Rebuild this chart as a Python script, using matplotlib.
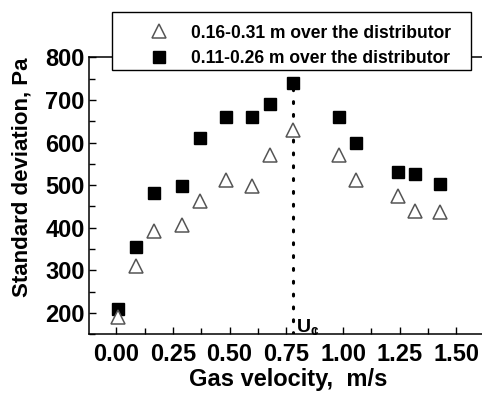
import numpy as np
import matplotlib
matplotlib.use('Agg')
import matplotlib.pyplot as plt
from matplotlib.ticker import MultipleLocator
from matplotlib.patches import Rectangle

plt.rcParams['font.family'] = ['Liberation Sans', 'DejaVu Sans']
plt.rcParams['font.weight'] = 'bold'
plt.rcParams['mathtext.fontset'] = 'custom'
plt.rcParams['mathtext.bf'] = 'Liberation Sans:bold'
plt.rcParams['mathtext.rm'] = 'Liberation Sans:bold'

# gas velocity, m/s
velocity = [0.01, 0.089, 0.165, 0.29, 0.368, 0.486, 0.599, 0.68, 0.78, 0.981, 1.059, 1.244, 1.319, 1.426]
# standard deviation, Pa
std_high = [190, 311, 392, 406, 463, 511, 499, 570, 629, 570, 511, 474, 439, 437]   # 0.16-0.31 m
std_low = [209, 354, 482, 498, 611, 659, 659, 691, 740, 659, 599, 530, 526, 503]    # 0.11-0.26 m
labels = ['0.16-0.31 m over the distributor', '0.11-0.26 m over the distributor']
u_c = 0.78
u_c_top = 732

W, H = 482, 394
fig = plt.figure(figsize=(W / 100, H / 100), dpi=100)
ax = fig.add_axes([0.1846, 0.1515, 1.01 - 0.1846, 0.8546 - 0.1515])

h1, = ax.plot(velocity, std_high, linestyle='none', marker='^', markersize=9.5,
              markerfacecolor='white', markeredgecolor='#555555', markeredgewidth=1.1,
              label=labels[0], zorder=3)
h2, = ax.plot(velocity, std_low, linestyle='none', marker='s', markersize=8.5,
              color='black', label=labels[1], zorder=2)

ax.plot([u_c, u_c], [150, u_c_top], color='black', linewidth=2.2,
        linestyle=(0, (0.6, 3.6)), dash_capstyle='round', zorder=1)
ax.text(u_c + 0.012, 167, r'$\mathbf{U_c}$', fontsize=14, ha='left', va='center')

ax.set_xlim(-0.12, 1.634)
ax.set_ylim(150, 800)
ax.xaxis.set_major_locator(MultipleLocator(0.25))
ax.xaxis.set_minor_locator(MultipleLocator(0.125))
ax.yaxis.set_major_locator(MultipleLocator(100))
ax.yaxis.set_minor_locator(MultipleLocator(50))
ax.set_xticks(np.arange(0, 1.51, 0.25))
ax.set_yticks(np.arange(200, 801, 100))
ax.xaxis.set_major_formatter(matplotlib.ticker.FormatStrFormatter('%.2f'))

ax.tick_params(which='both', direction='in', top=False, right=False,
               labelsize=17, width=1)
ax.tick_params(axis='x', pad=6)
ax.tick_params(axis='y', pad=3)
ax.tick_params(which='major', length=5)
ax.tick_params(which='minor', length=4)
for s in ax.spines.values():
    s.set_linewidth(1.1)

ax.set_xlabel('Gas velocity,  m/s', fontsize=17, fontweight='bold', labelpad=2)
ax.set_ylabel('Standard deviation, Pa', fontsize=16, fontweight='bold')
ax.yaxis.set_label_coords(-0.142, 0.568)

# legend frame drawn by hand (box is taller on top than the legend rows)
box = Rectangle((111.7 / W, 1 - 70 / H), 359 / W, 58.3 / H, transform=fig.transFigure,
                facecolor='white', edgecolor='black', linewidth=1.0, zorder=5)
fig.add_artist(box)
leg = fig.legend([h1, h2], labels, loc='upper left',
                 bbox_to_anchor=(141.6 / W, 1 - 24.6 / H), borderaxespad=0,
                 prop={'weight': 'bold', 'size': 12.65}, frameon=False,
                 handletextpad=0.82, borderpad=0, labelspacing=0.5,
                 handlelength=2.0)
leg.set_zorder(6)

fig.savefig('out.png', dpi=100)
